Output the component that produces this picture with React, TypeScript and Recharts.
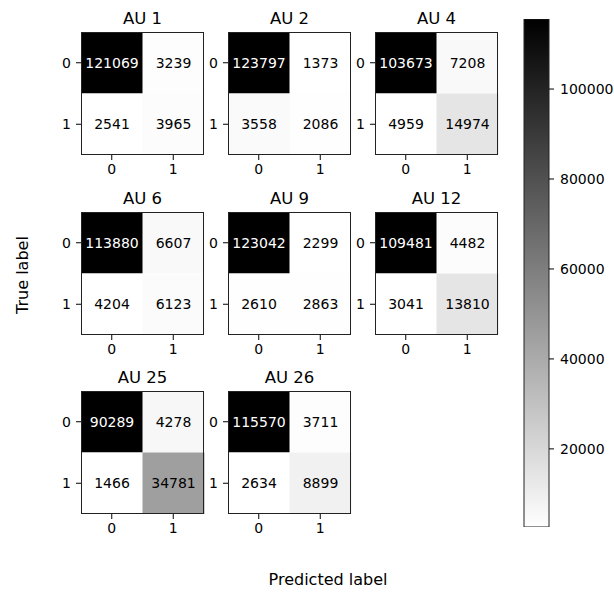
import { BarChart, Bar, Cell, XAxis, YAxis, LabelList } from 'recharts'

// confusion matrix entries per action unit: [[tn, fp], [fn, tp]]
const units = ['AU 1', 'AU 2', 'AU 4', 'AU 6', 'AU 9', 'AU 12', 'AU 25', 'AU 26']
const tn = [121069, 123797, 103673, 113880, 123042, 109481, 90289, 115570]
const fp = [3239, 1373, 7208, 6607, 2299, 4482, 4278, 3711]
const fn = [2541, 3558, 4959, 4204, 2610, 3041, 1466, 2634]
const tp = [3965, 2086, 14974, 6123, 2863, 13810, 34781, 8899]

const classLabels = ['0', '1']
const colorbarTicks = [20000, 40000, 60000, 80000, 100000]

const FONT = '"DejaVu Sans", sans-serif'
const SIZE = 123
const colLefts = [81, 228, 375]
const rowTops = [32, 212, 391]
const AXIS_W = 40
const AXIS_H = 30
const PAD = 5

// gray_r, linear between the matrix min and max
function grey(v: number, lo: number, hi: number) {
  const g = Math.round(255 * (1 - (v - lo) / (hi - lo)))
  return `rgb(${g},${g},${g})`
}

const tickStyle = { fill: '#000', fontSize: 14, fontFamily: FONT }

function Matrix({ idx }: { idx: number }) {
  const m = [
    [tn[idx], fp[idx]],
    [fn[idx], tp[idx]],
  ]
  const all = m.flat()
  const lo = Math.min(...all)
  const hi = Math.max(...all)
  const thresh = (lo + hi) / 2
  const data = classLabels.map((p, j) => ({ pred: p, r0: 1, r1: 1, v0: m[0][j], v1: m[1][j] }))
  const left = colLefts[idx % 3]
  const top = rowTops[Math.floor(idx / 3)]

  const cellText = (props: any) => {
    const { x, y, width, height, value } = props
    return (
      <text
        x={x + width / 2}
        y={y + height / 2}
        textAnchor="middle"
        dominantBaseline="central"
        fontSize={14}
        fontFamily={FONT}
        fill={value < thresh ? '#000' : '#fff'}
      >
        {value}
      </text>
    )
  }

  return (
    <>
      <div
        style={{
          position: 'absolute',
          left,
          top: top - 23,
          width: SIZE,
          textAlign: 'center',
          fontSize: 16.5,
          lineHeight: '20px',
          fontFamily: FONT,
          color: '#000',
        }}
      >
        {units[idx]}
      </div>
      <div style={{ position: 'absolute', left: left - AXIS_W, top: top - PAD }}>
        <BarChart
          width={AXIS_W + SIZE + PAD}
          height={PAD + SIZE + AXIS_H}
          data={data}
          margin={{ top: PAD, right: PAD, left: 0, bottom: 0 }}
          barCategoryGap={0}
          barGap={0}
        >
          <XAxis dataKey="pred" height={AXIS_H} tick={tickStyle} tickSize={5} tickMargin={4}
            axisLine={false} tickLine={{ stroke: '#000' }} />
          <YAxis type="number" domain={[0, 2]} reversed ticks={[0.5, 1.5]} width={AXIS_W}
            tickFormatter={(v: number) => (v < 1 ? '0' : '1')} tick={tickStyle} tickSize={5} tickMargin={5}
            axisLine={false} tickLine={{ stroke: '#000' }} allowDataOverflow />
          <Bar dataKey="r0" stackId="m" isAnimationActive={false}>
            {data.map((d) => (
              <Cell key={d.pred} fill={grey(d.v0, lo, hi)} />
            ))}
            <LabelList dataKey="v0" content={cellText} />
          </Bar>
          <Bar dataKey="r1" stackId="m" isAnimationActive={false}>
            {data.map((d) => (
              <Cell key={d.pred} fill={grey(d.v1, lo, hi)} />
            ))}
            <LabelList dataKey="v1" content={cellText} />
          </Bar>
        </BarChart>
      </div>
      {/* axes frame (spines) */}
      <div
        style={{
          position: 'absolute',
          left,
          top,
          width: SIZE,
          height: SIZE,
          border: '1px solid #222',
          boxSizing: 'border-box',
          pointerEvents: 'none',
        }}
      />
    </>
  )
}

function Colorbar() {
  // matplotlib takes the colorbar norm from the last image drawn (AU 26)
  const last = units.length - 1
  const vals = [tn[last], fp[last], fn[last], tp[last]]
  const lo = Math.min(...vals)
  const hi = Math.max(...vals)
  const data = [{ name: 'cb', range: [lo, hi] }]
  return (
    <div style={{ position: 'absolute', left: 523, top: 18 }}>
      <BarChart width={90} height={510} data={data} margin={{ top: 1, right: 0, left: 1, bottom: 1 }}
        barCategoryGap={0}>
        <defs>
          <linearGradient id="cbGrad" x1="0" y1="0" x2="0" y2="1">
            <stop offset="0%" stopColor="#000" />
            <stop offset="100%" stopColor="#fff" />
          </linearGradient>
        </defs>
        <XAxis dataKey="name" hide />
        <YAxis type="number" orientation="right" domain={[lo, hi]} ticks={colorbarTicks} width={64}
          tick={tickStyle} tickSize={5} tickMargin={6} axisLine={false} tickLine={{ stroke: '#000' }}
          allowDataOverflow />
        <Bar dataKey="range" fill="url(#cbGrad)" stroke="#222" strokeWidth={1} isAnimationActive={false} />
      </BarChart>
    </div>
  )
}

export default function App() {
  return (
    <div style={{ position: 'absolute', left: 0, top: 0, width: 614, height: 594, background: '#fff', fontFamily: FONT }}>
      {units.map((_, i) => (
        <Matrix key={units[i]} idx={i} />
      ))}
      <Colorbar />
      <div
        style={{
          position: 'absolute',
          left: 22.5 - 60,
          top: 275 - 10,
          width: 120,
          lineHeight: '20px',
          fontSize: 16,
          textAlign: 'center',
          transform: 'rotate(-90deg)',
          color: '#000',
        }}
      >
        True label
      </div>
      <div
        style={{
          position: 'absolute',
          left: 228,
          top: 570,
          width: 200,
          lineHeight: '20px',
          fontSize: 16,
          textAlign: 'center',
          color: '#000',
        }}
      >
        Predicted label
      </div>
    </div>
  )
}
